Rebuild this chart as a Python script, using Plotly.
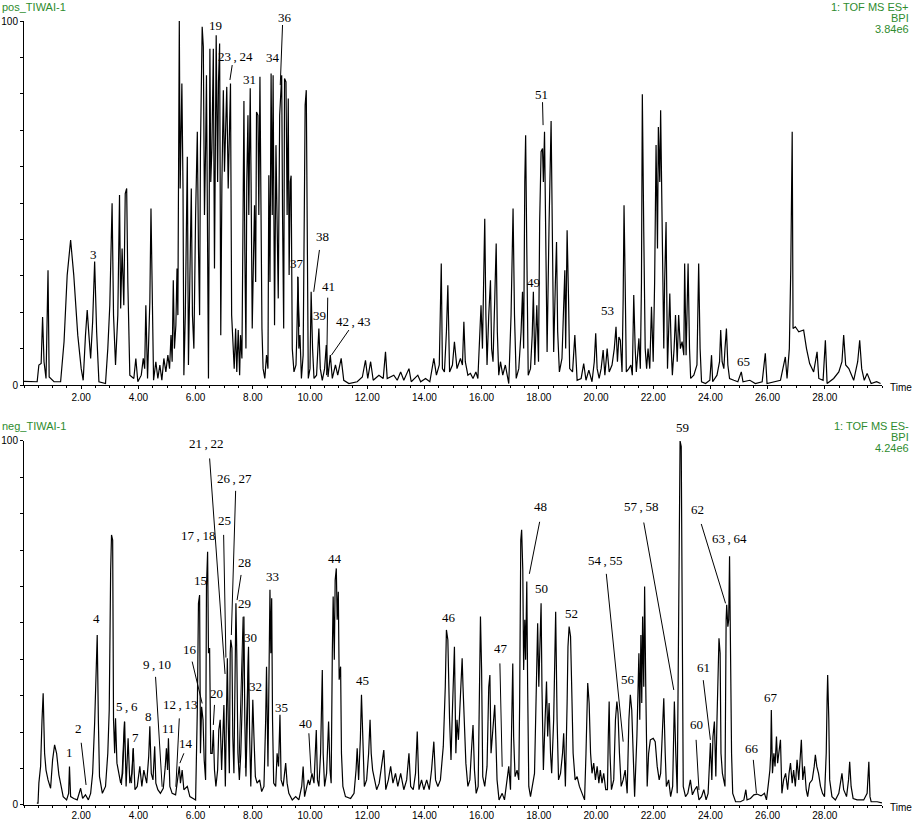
import plotly.graph_objects as go

# ---------------- data: positive mode BPI chromatogram ----------------
pos_time = [
    0.0, 0.35, 0.46, 0.52, 0.6, 0.65, 0.7, 0.77, 0.84, 0.88,
    1.05, 1.28, 1.4, 1.51, 1.63, 1.74, 1.88, 2.0, 2.07, 2.15,
    2.21, 2.27, 2.33, 2.4, 2.47, 2.54, 2.62, 2.85, 2.93, 3.0,
    3.05, 3.08, 3.13, 3.2, 3.28, 3.34, 3.38, 3.43, 3.49, 3.54,
    3.59, 3.63, 3.7, 3.84, 3.91, 3.98, 4.1, 4.17, 4.22, 4.26,
    4.32, 4.4, 4.44, 4.48, 4.53, 4.61, 4.68, 4.75, 4.82, 4.89,
    4.96, 5.03, 5.09, 5.14, 5.18, 5.22, 5.26, 5.31, 5.35, 5.38,
    5.43, 5.46, 5.49, 5.52, 5.56, 5.59, 5.64, 5.71, 5.75, 5.8,
    5.85, 5.89, 5.94, 6.0, 6.06, 6.1, 6.14, 6.17, 6.23, 6.27,
    6.31, 6.35, 6.38, 6.42, 6.45, 6.5, 6.53, 6.57, 6.62, 6.66,
    6.72, 6.77, 6.8, 6.84, 6.88, 6.92, 6.97, 7.01, 7.06, 7.09,
    7.14, 7.18, 7.22, 7.26, 7.3, 7.35, 7.4, 7.44, 7.49, 7.54,
    7.57, 7.62, 7.65, 7.69, 7.72, 7.76, 7.79, 7.83, 7.86, 7.91,
    7.94, 7.98, 8.03, 8.06, 8.1, 8.13, 8.18, 8.21, 8.25, 8.28,
    8.32, 8.36, 8.42, 8.48, 8.53, 8.56, 8.6, 8.64, 8.68, 8.71,
    8.76, 8.81, 8.85, 8.89, 8.94, 8.97, 9.01, 9.04, 9.08, 9.11,
    9.16, 9.2, 9.24, 9.27, 9.31, 9.34, 9.38, 9.44, 9.51, 9.54,
    9.58, 9.61, 9.65, 9.7, 9.76, 9.8, 9.83, 9.87, 9.9, 9.94,
    10.0, 10.04, 10.09, 10.14, 10.23, 10.31, 10.36, 10.43, 10.51, 10.57,
    10.63, 10.71, 10.78, 10.89, 10.97, 11.09, 11.18, 11.36, 11.65, 11.83,
    11.94, 12.02, 12.12, 12.21, 12.41, 12.56, 12.64, 12.7, 12.93, 13.05,
    13.17, 13.28, 13.46, 13.54, 13.77, 13.87, 14.04, 14.19, 14.33, 14.42,
    14.52, 14.59, 14.63, 14.7, 14.77, 14.82, 14.88, 14.98, 15.05, 15.14,
    15.26, 15.33, 15.38, 15.43, 15.52, 15.61, 15.7, 15.8, 15.87, 15.94,
    15.98, 16.03, 16.08, 16.11, 16.15, 16.19, 16.25, 16.31, 16.35, 16.4,
    16.46, 16.51, 16.55, 16.6, 16.66, 16.74, 16.83, 16.95, 17.03, 17.1,
    17.15, 17.21, 17.3, 17.38, 17.43, 17.47, 17.51, 17.54, 17.58, 17.63,
    17.71, 17.77, 17.81, 17.86, 17.93, 17.99, 18.03, 18.08, 18.13, 18.16,
    18.2, 18.24, 18.29, 18.36, 18.43, 18.48, 18.52, 18.58, 18.62, 18.66,
    18.72, 18.81, 18.91, 18.94, 18.99, 19.04, 19.08, 19.18, 19.26, 19.34,
    19.48, 19.57, 19.65, 19.75, 19.86, 19.94, 19.99, 20.04, 20.11, 20.18,
    20.25, 20.31, 20.39, 20.46, 20.56, 20.64, 20.7, 20.75, 20.8, 20.85,
    20.91, 20.95, 20.98, 21.02, 21.06, 21.15, 21.22, 21.27, 21.32, 21.37,
    21.41, 21.5, 21.55, 21.59, 21.62, 21.67, 21.72, 21.77, 21.82, 21.88,
    21.94, 22.0, 22.05, 22.1, 22.15, 22.18, 22.23, 22.26, 22.31, 22.37,
    22.4, 22.45, 22.5, 22.54, 22.58, 22.63, 22.67, 22.73, 22.78, 22.84,
    22.89, 22.95, 23.01, 23.07, 23.1, 23.15, 23.18, 23.22, 23.27, 23.31,
    23.42, 23.53, 23.59, 23.64, 23.69, 23.83, 23.98, 24.04, 24.08, 24.23,
    24.32, 24.36, 24.41, 24.47, 24.51, 24.56, 24.61, 24.67, 24.82, 24.96,
    25.08, 25.14, 25.38, 25.57, 25.81, 25.92, 25.98, 26.22, 26.45, 26.62,
    26.68, 26.76, 26.81, 26.86, 26.89, 26.97, 27.09, 27.26, 27.36, 27.47,
    27.61, 27.73, 27.79, 27.94, 28.02, 28.08, 28.31, 28.49, 28.6, 28.66,
    28.73, 28.84, 29.01, 29.15, 29.22, 29.29, 29.38, 29.48, 29.62, 29.81,
    29.95,
]
pos_int = [
    1.0, 1.0, 0.9, 5.5, 5.9, 18.7, 6.4, 1.8, 31.5, 2.2,
    0.9, 0.9, 11.9, 30.2, 39.8, 30.2, 13.7, 4.5, 1.3, 13.7,
    20.6, 13.7, 7.3, 17.4, 33.9, 14.6, 0.9, 0.4, 10.0, 21.9,
    46.7, 49.9, 19.2, 5.5, 19.2, 52.2, 21.0, 37.5, 21.9, 52.6,
    54.0, 28.3, 2.7, 1.8, 7.3, 0.9, 2.7, 7.3, 4.5, 21.9,
    1.8, 22.8, 48.5, 19.2, 1.3, 6.4, 1.8, 5.5, 1.3, 7.3,
    3.6, 8.2, 4.5, 13.7, 6.4, 28.8, 10.0, 16.4, 32.0, 19.2,
    100.0, 54.0, 70.5, 82.8, 54.0, 2.7, 19.2, 62.7, 5.5, 28.3,
    54.0, 19.2, 10.0, 46.7, 69.6, 37.5, 19.2, 65.0, 98.4, 92.9,
    46.7, 65.0, 85.1, 37.5, 1.8, 92.4, 55.8, 65.0, 92.4, 32.0,
    96.1, 55.8, 83.3, 93.8, 13.7, 55.8, 81.0, 58.6, 69.6, 81.9,
    54.0, 69.6, 82.8, 19.2, 10.0, 4.5, 15.5, 3.6, 15.1, 2.7,
    13.7, 7.3, 37.5, 78.0, 37.5, 10.0, 55.8, 74.1, 46.7, 81.5,
    55.8, 15.5, 37.5, 49.4, 28.3, 75.0, 74.1, 46.7, 84.7, 55.8,
    15.5, 4.5, 1.8, 8.2, 4.5, 57.6, 28.3, 85.6, 46.7, 85.1,
    16.4, 65.9, 37.5, 23.8, 74.1, 81.5, 85.1, 46.7, 15.5, 84.2,
    83.3, 46.7, 78.7, 30.2, 55.8, 57.5, 10.0, 3.6, 5.5, 13.7,
    29.7, 10.0, 13.7, 1.8, 8.2, 46.7, 76.9, 81.0, 37.5, 1.8,
    4.5, 25.6, 10.0, 1.8, 2.7, 15.5, 4.5, 1.3, 4.5, 11.0,
    2.2, 8.2, 1.8, 5.5, 2.7, 7.3, 1.3, 0.4, 0.9, 2.2,
    6.8, 1.8, 6.4, 1.3, 2.7, 1.8, 9.1, 1.8, 2.7, 1.3,
    3.6, 1.3, 4.5, 0.9, 2.7, 0.9, 1.8, 0.9, 7.3, 2.7,
    5.5, 33.4, 4.5, 3.6, 14.6, 27.4, 3.6, 5.5, 11.9, 4.5,
    7.3, 5.5, 17.4, 6.4, 2.7, 3.2, 1.8, 3.6, 1.8, 14.6,
    21.9, 10.0, 33.0, 45.7, 19.2, 5.5, 19.2, 28.8, 10.0, 6.4,
    23.8, 38.9, 14.6, 2.7, 6.4, 2.7, 5.5, 0.4, 19.2, 48.5,
    19.2, 1.8, 4.5, 14.6, 25.6, 10.0, 55.8, 68.6, 37.5, 2.7,
    4.5, 13.7, 25.6, 5.5, 21.9, 6.4, 44.8, 64.1, 65.0, 55.8,
    69.6, 37.5, 9.1, 44.8, 72.5, 37.5, 9.1, 28.3, 39.3, 14.6,
    3.6, 7.3, 31.5, 10.0, 42.5, 23.8, 4.5, 3.6, 13.7, 1.3,
    1.8, 5.9, 1.3, 4.1, 0.9, 6.4, 14.2, 4.5, 1.8, 4.5,
    9.6, 2.7, 10.0, 3.6, 5.5, 10.0, 16.0, 6.4, 13.2, 12.3,
    3.6, 23.8, 49.4, 28.3, 3.6, 4.5, 5.5, 2.7, 24.7, 10.0,
    3.6, 12.8, 4.5, 28.3, 79.9, 42.1, 10.0, 4.5, 10.0, 4.5,
    21.5, 6.4, 28.3, 65.9, 37.5, 70.9, 55.8, 75.5, 37.5, 10.0,
    28.3, 44.8, 4.5, 14.6, 25.1, 10.0, 2.7, 10.0, 19.2, 6.4,
    19.2, 10.0, 11.9, 8.2, 33.4, 8.2, 19.2, 33.4, 10.0, 1.8,
    2.7, 5.5, 33.4, 10.0, 0.9, 0.4, 1.3, 8.2, 0.9, 2.7,
    6.4, 15.1, 6.4, 4.5, 10.0, 15.5, 5.5, 1.8, 1.3, 0.9,
    3.6, 0.9, 1.3, 0.4, 0.9, 8.7, 0.4, 0.9, 1.3, 7.7,
    1.8, 10.0, 32.0, 69.6, 15.5, 16.0, 14.6, 15.1, 10.0, 5.9,
    3.6, 9.1, 1.8, 1.3, 12.3, 0.4, 1.8, 3.6, 6.4, 13.7,
    5.5, 4.5, 1.3, 6.4, 12.3, 4.5, 1.3, 3.2, 0.4, 0.9,
    0.4,
]

# ---------------- data: negative mode BPI chromatogram ----------------
neg_time = [
    0.45, 0.49, 0.52, 0.58, 0.63, 0.67, 0.72, 0.77, 0.84, 0.93,
    1.0, 1.07, 1.14, 1.22, 1.3, 1.37, 1.49, 1.56, 1.59, 1.63,
    1.74, 1.86, 1.98, 2.05, 2.15, 2.25, 2.33, 2.4, 2.47, 2.51,
    2.56, 2.6, 2.64, 2.74, 2.85, 2.93, 2.98, 3.03, 3.06, 3.1,
    3.13, 3.17, 3.2, 3.25, 3.31, 3.38, 3.45, 3.52, 3.57, 3.64,
    3.7, 3.77, 3.82, 3.88, 3.96, 4.05, 4.12, 4.19, 4.29, 4.36,
    4.4, 4.45, 4.51, 4.57, 4.61, 4.68, 4.77, 4.87, 4.94, 4.98,
    5.02, 5.05, 5.1, 5.18, 5.3, 5.38, 5.43, 5.47, 5.53, 5.59,
    5.71, 5.8, 5.92, 6.0, 6.06, 6.1, 6.14, 6.17, 6.21, 6.26,
    6.3, 6.35, 6.38, 6.42, 6.45, 6.49, 6.53, 6.58, 6.62, 6.66,
    6.71, 6.77, 6.81, 6.86, 6.91, 6.95, 6.99, 7.04, 7.07, 7.11,
    7.14, 7.18, 7.21, 7.23, 7.27, 7.3, 7.34, 7.37, 7.41, 7.44,
    7.48, 7.53, 7.58, 7.63, 7.69, 7.72, 7.76, 7.81, 7.85, 7.89,
    7.93, 7.97, 8.0, 8.04, 8.09, 8.15, 8.24, 8.31, 8.39, 8.45,
    8.48, 8.53, 8.56, 8.6, 8.63, 8.66, 8.69, 8.73, 8.8, 8.85,
    8.9, 8.95, 8.99, 9.06, 9.15, 9.2, 9.26, 9.38, 9.5, 9.61,
    9.71, 9.76, 9.81, 9.88, 9.94, 9.99, 10.07, 10.14, 10.18, 10.22,
    10.26, 10.31, 10.37, 10.43, 10.46, 10.51, 10.58, 10.65, 10.7, 10.74,
    10.78, 10.81, 10.85, 10.88, 10.92, 10.95, 10.99, 11.02, 11.07, 11.1,
    11.15, 11.24, 11.42, 11.54, 11.61, 11.65, 11.7, 11.76, 11.8, 11.85,
    11.9, 11.98, 12.05, 12.1, 12.14, 12.19, 12.26, 12.33, 12.42, 12.5,
    12.58, 12.65, 12.74, 12.82, 12.9, 12.99, 13.07, 13.17, 13.28, 13.38,
    13.46, 13.52, 13.61, 13.69, 13.75, 13.81, 13.9, 13.98, 14.08, 14.17,
    14.25, 14.33, 14.39, 14.47, 14.56, 14.66, 14.73, 14.77, 14.82, 14.88,
    14.93, 14.97, 15.05, 15.1, 15.14, 15.19, 15.24, 15.28, 15.32, 15.35,
    15.4, 15.45, 15.52, 15.59, 15.64, 15.7, 15.75, 15.81, 15.88, 15.92,
    15.96, 16.0, 16.04, 16.11, 16.19, 16.25, 16.29, 16.33, 16.38, 16.43,
    16.46, 16.5, 16.54, 16.61, 16.72, 16.8, 16.89, 16.95, 17.01, 17.05,
    17.09, 17.12, 17.17, 17.24, 17.3, 17.33, 17.37, 17.4, 17.44, 17.47,
    17.51, 17.54, 17.58, 17.61, 17.65, 17.71, 17.78, 17.85, 17.89, 17.93,
    17.96, 18.0, 18.03, 18.08, 18.11, 18.16, 18.22, 18.27, 18.31, 18.36,
    18.41, 18.45, 18.52, 18.56, 18.59, 18.64, 18.69, 18.76, 18.83, 18.87,
    18.93, 18.99, 19.02, 19.06, 19.11, 19.15, 19.2, 19.27, 19.34, 19.42,
    19.51, 19.6, 19.65, 19.71, 19.76, 19.81, 19.86, 19.92, 19.98, 20.04,
    20.1, 20.15, 20.21, 20.27, 20.34, 20.4, 20.43, 20.46, 20.49, 20.54,
    20.62, 20.68, 20.73, 20.77, 20.82, 20.88, 20.95, 21.02, 21.09, 21.15,
    21.2, 21.25, 21.3, 21.35, 21.43, 21.46, 21.5, 21.53, 21.57, 21.6,
    21.63, 21.67, 21.7, 21.74, 21.79, 21.84, 21.9, 22.0, 22.07, 22.14,
    22.21, 22.26, 22.32, 22.37, 22.42, 22.46, 22.54, 22.61, 22.68, 22.74,
    22.79, 22.84, 22.88, 22.92, 22.94, 22.98, 23.01, 23.05, 23.13, 23.21,
    23.3, 23.37, 23.45, 23.53, 23.6, 23.69, 23.77, 23.85, 23.92, 23.97,
    24.0, 24.05, 24.09, 24.14, 24.19, 24.23, 24.27, 24.3, 24.34, 24.37,
    24.42, 24.47, 24.51, 24.55, 24.57, 24.61, 24.64, 24.67, 24.7, 24.74,
    24.78, 24.88, 25.05, 25.17, 25.24, 25.28, 25.4, 25.52, 25.63, 25.77,
    25.89, 25.96, 26.03, 26.08, 26.11, 26.13, 26.17, 26.22, 26.26, 26.31,
    26.35, 26.4, 26.45, 26.5, 26.56, 26.63, 26.7, 26.75, 26.8, 26.86,
    26.91, 26.97, 27.03, 27.09, 27.15, 27.18, 27.23, 27.29, 27.35, 27.4,
    27.47, 27.56, 27.63, 27.67, 27.72, 27.78, 27.85, 27.92, 27.99, 28.05,
    28.08, 28.1, 28.14, 28.17, 28.25, 28.37, 28.49, 28.57, 28.6, 28.66,
    28.76, 28.83, 28.87, 28.92, 28.99, 29.13, 29.36, 29.48, 29.54, 29.58,
    29.62, 29.83, 30.0,
]
neg_int = [
    0.5, 0.5, 6.0, 10.6, 23.4, 30.7, 14.2, 9.6, 6.9, 4.6,
    12.4, 16.5, 14.2, 8.3, 5.1, 2.3, 1.4, 3.2, 10.6, 2.3,
    1.8, 1.4, 4.6, 1.8, 2.8, 1.4, 3.2, 8.7, 22.5, 32.5,
    46.7, 23.4, 7.8, 3.2, 5.1, 14.2, 26.1, 64.6, 74.2, 72.8,
    23.4, 14.2, 23.8, 11.5, 8.7, 6.0, 8.7, 22.9, 5.1, 18.3,
    6.0, 8.7, 15.6, 4.2, 5.1, 10.6, 5.1, 9.6, 6.0, 13.3,
    21.6, 8.7, 6.9, 16.1, 6.0, 4.2, 3.2, 4.6, 10.6, 15.6,
    9.6, 18.3, 5.1, 3.2, 2.8, 6.9, 10.6, 6.0, 9.6, 4.2,
    5.1, 2.3, 1.8, 1.4, 26.1, 55.4, 57.7, 14.2, 27.0, 23.4,
    12.4, 6.9, 60.0, 69.6, 41.7, 43.1, 14.2, 14.2, 20.6, 9.6,
    5.1, 9.6, 20.6, 23.4, 9.6, 18.8, 27.5, 5.1, 23.4, 40.3,
    23.4, 8.7, 41.7, 45.4, 43.1, 18.8, 8.7, 32.5, 55.4, 41.7,
    14.2, 6.9, 14.2, 28.0, 51.8, 23.4, 7.8, 23.4, 43.5, 18.8,
    5.1, 18.8, 28.9, 18.8, 7.8, 6.0, 6.9, 3.7, 5.1, 23.4,
    38.0, 10.6, 41.7, 59.1, 41.7, 56.8, 23.4, 6.0, 5.1, 14.2,
    10.6, 24.8, 6.9, 5.1, 11.5, 6.0, 3.2, 1.4, 2.3, 1.4,
    5.1, 10.6, 2.3, 5.1, 6.9, 5.5, 8.7, 6.0, 14.2, 20.6,
    6.9, 5.1, 14.2, 37.1, 14.2, 5.1, 8.7, 22.9, 9.6, 6.0,
    41.7, 57.3, 39.9, 61.8, 65.0, 50.9, 58.6, 34.4, 38.0, 14.2,
    5.1, 2.3, 1.8, 3.2, 9.6, 15.6, 6.9, 17.9, 30.3, 14.2,
    5.1, 6.9, 14.2, 23.4, 14.2, 9.6, 6.9, 4.2, 6.0, 10.6,
    15.1, 4.2, 6.9, 10.6, 6.0, 8.7, 5.1, 8.7, 4.2, 6.9,
    14.2, 5.1, 4.2, 8.7, 20.2, 4.2, 6.9, 4.2, 6.9, 4.2,
    9.6, 17.4, 6.9, 5.1, 6.9, 16.1, 32.5, 48.1, 45.4, 23.4,
    12.4, 23.4, 43.5, 14.2, 23.4, 17.9, 28.0, 36.2, 40.3, 32.5,
    23.4, 11.5, 5.1, 6.9, 14.2, 22.0, 9.6, 3.2, 5.1, 37.1,
    51.8, 37.1, 7.8, 5.1, 10.6, 32.5, 35.7, 14.2, 19.7, 26.1,
    27.5, 17.9, 6.9, 1.4, 3.2, 1.4, 7.8, 10.6, 4.2, 28.0,
    38.9, 18.8, 7.8, 9.6, 6.9, 28.0, 72.8, 75.6, 64.6, 37.1,
    50.9, 39.9, 61.4, 32.5, 5.1, 2.3, 5.1, 8.7, 23.4, 47.2,
    49.9, 32.5, 41.7, 55.4, 32.5, 9.6, 23.4, 33.9, 18.8, 28.0,
    14.2, 8.7, 23.4, 41.7, 53.1, 23.4, 6.9, 8.7, 14.2, 19.7,
    5.1, 28.0, 43.5, 49.0, 46.3, 32.5, 14.2, 6.9, 7.8, 5.1,
    3.2, 1.4, 14.2, 33.5, 28.0, 14.2, 8.7, 11.5, 6.9, 10.6,
    6.0, 9.6, 6.0, 8.7, 4.2, 4.2, 18.8, 28.4, 14.2, 4.2,
    6.9, 23.4, 28.4, 25.2, 14.2, 5.1, 6.9, 9.6, 3.2, 23.4,
    30.3, 26.1, 14.2, 2.3, 18.8, 26.1, 41.7, 23.4, 46.7, 28.0,
    51.8, 32.5, 60.0, 32.5, 5.1, 14.2, 17.9, 18.3, 17.4, 10.6,
    6.9, 8.7, 23.4, 29.3, 14.2, 5.1, 6.9, 2.3, 5.1, 28.4,
    14.2, 3.2, 41.7, 96.6, 100.0, 98.5, 50.9, 5.1, 2.3, 3.2,
    6.9, 2.8, 4.2, 5.1, 1.4, 2.3, 4.2, 1.4, 3.2, 14.2,
    17.0, 6.9, 18.8, 22.9, 7.8, 23.4, 41.7, 45.8, 41.7, 14.2,
    8.7, 6.9, 5.1, 50.9, 55.0, 49.0, 50.9, 68.3, 32.5, 14.2,
    3.2, 0.9, 0.9, 1.4, 4.2, 1.4, 1.8, 2.8, 3.0, 2.5,
    3.2, 1.4, 6.0, 9.6, 14.2, 26.1, 8.7, 14.2, 10.6, 18.8,
    11.5, 14.2, 17.9, 3.2, 6.9, 8.7, 4.2, 8.7, 11.5, 6.0,
    9.6, 5.1, 12.4, 6.9, 15.1, 17.9, 6.9, 10.6, 4.2, 2.3,
    6.0, 6.9, 10.6, 13.8, 10.6, 8.7, 5.1, 3.2, 2.3, 14.2,
    28.9, 35.7, 23.4, 6.9, 2.3, 1.4, 3.2, 6.9, 8.7, 4.2,
    2.3, 6.9, 11.9, 5.1, 1.8, 1.4, 1.4, 3.2, 11.9, 2.3,
    0.9, 0.9, 0.6,
]

# ---------------- peak labels ----------------
pos_labels = ["3", "19", "23,24", "31", "34", "36", "37", "38", "39", "41",
              "42,43", "49", "51", "53", "65"]
pos_label_t = [2.42, 6.7, 7.4, 7.87, 8.7, 9.14, 9.53, 10.43, 10.34, 10.66,
               11.5, 17.83, 18.08, 20.41, 25.15]
pos_label_v = [35.9, 98.7, 90.2, 84.0, 90.0, 100.9, 33.4, 40.7, 19.0, 27.0,
               17.4, 28.1, 79.7, 20.4, 6.4]
# leader lines: start (t, v) -> end (t, v)
pos_lead_t0 = [7.28, 9.04, 9.57, 10.33, 10.62, 11.36, 18.13]
pos_lead_v0 = [87.9, 98.9, 29.8, 37.1, 24.0, 15.1, 77.7]
pos_lead_t1 = [7.2, 8.96, 9.63, 10.13, 10.58, 10.75, 18.15]
pos_lead_v1 = [83.8, 82.4, 16.0, 25.6, 2.7, 8.2, 71.4]

neg_labels = ["1", "2", "4", "5,6", "7", "8", "9,10", "11", "12,13", "14",
              "15", "16", "17,18", "20", "21,22", "25", "26,27", "28", "29", "30",
              "32", "33", "35", "40", "44", "45", "46", "47", "48", "50",
              "52", "54,55", "56", "57,58", "59", "60", "61", "62", "63,64", "66",
              "67"]
neg_label_t = [1.59, 1.92, 2.53, 3.61, 3.9, 4.36, 4.66, 5.06, 5.44, 5.67,
               6.16, 5.82, 6.08, 6.73, 6.38, 7.0, 7.37, 7.7, 7.72, 7.91,
               8.09, 8.68, 8.99, 9.84, 10.89, 11.82, 14.85, 16.68, 18.06, 18.08,
               19.13, 20.31, 21.13, 21.56, 23.04, 23.5, 23.75, 23.54, 24.68, 25.47,
               26.13]
neg_label_v = [14.4, 21.1, 51.2, 27.0, 18.5, 24.3, 38.7, 20.9, 27.7, 16.8,
               61.6, 42.8, 74.0, 30.7, 99.4, 78.1, 89.6, 66.6, 55.4, 46.1,
               32.5, 62.7, 26.8, 22.4, 67.8, 34.1, 51.6, 42.9, 81.9, 59.5,
               52.7, 67.1, 34.6, 81.9, 103.8, 22.0, 37.8, 81.2, 73.1, 15.6,
               29.6]
neg_lead_t0 = [2.0, 3.51, 3.82, 4.6, 5.43, 5.59, 5.88, 6.66, 6.49, 6.98,
               7.4, 7.59, 7.66, 7.85, 9.96, 16.64, 18.03, 20.36, 21.67, 23.5,
               23.75, 23.68, 25.5]
neg_lead_v0 = [17.1, 22.9, 15.6, 35.2, 23.8, 14.2, 39.4, 27.5, 95.2, 74.2,
               86.3, 63.2, 51.7, 43.1, 19.7, 38.9, 77.8, 63.5, 77.6, 17.9,
               34.3, 77.2, 12.4]
neg_lead_t1 = [2.17, 3.41, 3.76, 4.83, 5.31, 5.45, 6.23, 6.62, 7.03, 7.06,
               7.25, 7.45, 7.52, 7.74, 10.04, 16.72, 17.67, 20.95, 22.72, 23.6,
               24.0, 24.53, 25.61]
neg_lead_v1 = [5.5, 5.5, 6.0, 5.0, 5.0, 11.5, 27.9, 22.0, 36.0, 40.5,
               46.7, 56.3, 11.5, 10.2, 8.7, 10.5, 63.5, 17.4, 31.6, 4.1,
               17.9, 55.4, 3.2]

x_ticks = [2, 4, 6, 8, 10, 12, 14, 16, 18, 20, 22, 24, 26, 28]

GREEN = "#2e8b2e"
SERIF = "Liberation Serif, Times New Roman, serif"
SANS = "Liberation Sans, Arial, sans-serif"


def segments(t0, v0, t1, v1):
    xs, ys = [], []
    for a, b, c, d in zip(t0, v0, t1, v1):
        xs += [a, c, None]
        ys += [b, d, None]
    return xs, ys


fig = go.Figure()
fig.add_trace(go.Scatter(x=pos_time, y=pos_int, mode="lines",
                         line=dict(color="black", width=1.2), xaxis="x", yaxis="y",
                         hoverinfo="skip", showlegend=False))
fig.add_trace(go.Scatter(x=neg_time, y=neg_int, mode="lines",
                         line=dict(color="black", width=1.2), xaxis="x2", yaxis="y2",
                         hoverinfo="skip", showlegend=False))

lx, ly = segments(pos_lead_t0, pos_lead_v0, pos_lead_t1, pos_lead_v1)
fig.add_trace(go.Scatter(x=lx, y=ly, mode="lines", line=dict(color="black", width=1),
                         xaxis="x", yaxis="y", hoverinfo="skip", showlegend=False,
                         cliponaxis=False))
lx, ly = segments(neg_lead_t0, neg_lead_v0, neg_lead_t1, neg_lead_v1)
fig.add_trace(go.Scatter(x=lx, y=ly, mode="lines", line=dict(color="black", width=1),
                         xaxis="x2", yaxis="y2", hoverinfo="skip", showlegend=False,
                         cliponaxis=False))

# peak numbers: y given relative to the panel (intensity / 100) so labels above 100 still show
annotations = []
for txt, t, v in zip(pos_labels, pos_label_t, pos_label_v):
    annotations.append(dict(x=t, y=v / 100, xref="x", yref="y domain",
                            xanchor="center", yanchor="middle",
                            text=txt.replace(",", "\u2009,\u2009"), showarrow=False,
                            font=dict(family=SERIF, size=13, color="black")))
for txt, t, v in zip(neg_labels, neg_label_t, neg_label_v):
    annotations.append(dict(x=t, y=v / 100, xref="x2", yref="y2 domain",
                            xanchor="center", yanchor="middle",
                            text=txt.replace(",", "\u2009,\u2009"), showarrow=False,
                            font=dict(family=SERIF, size=13, color="black")))

# headers
hdr = dict(showarrow=False, xref="paper", yref="paper", font=dict(family=SANS, size=11, color=GREEN))
annotations += [
    dict(hdr, x=-0.0274, y=1.018, xanchor="left", yanchor="middle", text="pos_TIWAI-1"),
    dict(hdr, x=1.0338, y=1.018, xanchor="right", yanchor="middle", text="1: TOF MS ES+"),
    dict(hdr, x=1.0338, y=1.004, xanchor="right", yanchor="middle", text="BPI"),
    dict(hdr, x=1.0338, y=0.990, xanchor="right", yanchor="middle", text="3.84e6"),
    dict(hdr, x=-0.0274, y=0.4834, xanchor="left", yanchor="middle", text="neg_TIWAI-1"),
    dict(hdr, x=1.0338, y=0.4834, xanchor="right", yanchor="middle", text="1: TOF MS ES-"),
    dict(hdr, x=1.0338, y=0.4694, xanchor="right", yanchor="middle", text="BPI"),
    dict(hdr, x=1.0338, y=0.4554, xanchor="right", yanchor="middle", text="4.24e6"),
]
for xr, yr in (("x domain", "y domain"), ("x2 domain", "y2 domain")):
    annotations.append(dict(x=1.007, y=0, xref=xr, yref=yr, text="Time", showarrow=False,
                            xanchor="left", yanchor="middle", yshift=-2,
                            font=dict(family=SANS, size=10, color="black")))

xax = dict(range=[0, 30], showgrid=False, zeroline=False, showline=True, linecolor="black",
           linewidth=1, ticks="outside", ticklen=3, tickcolor="black", tickvals=x_ticks,
           ticktext=[f"{v:.2f}" for v in x_ticks],
           tickfont=dict(family=SANS, size=10, color="black"),
           minor=dict(dtick=0.5, ticks="outside", ticklen=2, tickcolor="black"))
yax = dict(range=[0, 100], showgrid=False, zeroline=False, showline=True, linecolor="black",
           linewidth=1, ticks="outside", ticklen=3, tickcolor="black", tickvals=[0, 100],
           tickfont=dict(family=SANS, size=10, color="black"),
           minor=dict(dtick=10, ticks="outside", ticklen=3, tickcolor="black"))

fig.update_layout(
    width=913, height=821,
    margin=dict(l=24, r=31, t=21, b=16, autoexpand=False),
    paper_bgcolor="white", plot_bgcolor="white",
    xaxis=dict(xax, domain=[0, 1], anchor="y"),
    yaxis=dict(yax, domain=[0.5357, 1], anchor="x"),
    xaxis2=dict(xax, domain=[0, 1], anchor="y2", ticklabelstandoff=-2),
    yaxis2=dict(yax, domain=[0, 0.4643], anchor="x2"),
    annotations=annotations,
    showlegend=False,
)

# the page body has a default 8px margin; remove it so the figure fills the window
fig.write_html("out.html", config={"displayModeBar": False},
               post_script="document.body.style.margin='0';")
